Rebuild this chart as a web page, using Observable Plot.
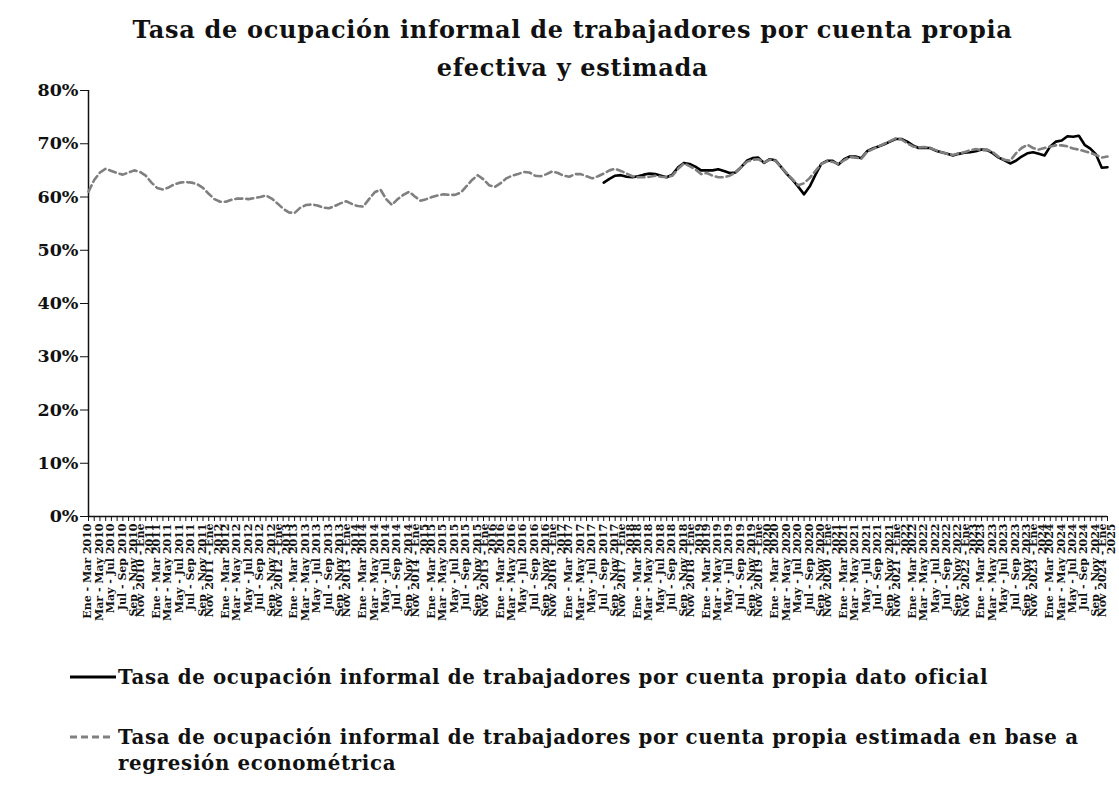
<!DOCTYPE html>
<html><head><meta charset="utf-8">
<script src="https://cdn.jsdelivr.net/npm/d3@7"></script>
<script src="https://cdn.jsdelivr.net/npm/@observablehq/plot@0.6"></script>
<style>
body{margin:0;background:#fff;font-family:"DejaVu Serif",serif;}
#wrap{position:relative;width:1119px;height:806px;overflow:hidden;background:#fff;}
#chart{position:absolute;left:0;top:0;}
#title{position:absolute;left:13px;width:1119px;top:11px;text-align:center;font-weight:bold;font-size:24px;letter-spacing:0.7px;line-height:38px;color:#111;}
.leg{position:absolute;left:70px;font-weight:bold;font-size:19.8px;letter-spacing:0.65px;color:#111;line-height:26px;}
.leg svg{position:absolute;left:0;top:0;}
.leg span{position:absolute;left:48px;top:0;white-space:nowrap;}
svg text{font-weight:bold;}
</style>
</head><body>
<div id="wrap">
  <div id="chart"></div>
  <div id="title">Tasa de ocupación informal de trabajadores por cuenta propia<br>efectiva y estimada</div>
  <div class="leg" style="top:664px;width:1040px;height:30px;">
    <svg width="48" height="26"><line x1="0" x2="46" y1="13" y2="13" stroke="#000" stroke-width="3"/></svg>
    <span>Tasa de ocupación informal de trabajadores por cuenta propia dato oficial</span>
  </div>
  <div class="leg" style="top:724px;width:1040px;height:60px;">
    <svg width="48" height="26"><line x1="0" x2="42" y1="13" y2="13" stroke="#808080" stroke-width="3" stroke-dasharray="7,4"/></svg>
    <span>Tasa de ocupación informal de trabajadores por cuenta propia estimada en base a<br>regresión econométrica</span>
  </div>
</div>
<script>
const meses = ["Ene","Feb","Mar","Abr","May","Jun","Jul","Ago","Sep","Oct","Nov","Dic"];
const anioInicio = 2010;
const inicioOficial = 90; // Jul - Sep 2017

const estimada = [
61.0,63.2,64.6,65.3,64.9,64.5,64.2,64.6,65.0,64.7,64.0,62.7,
61.7,61.4,61.8,62.4,62.7,62.8,62.7,62.4,61.7,60.6,59.6,59.1,
59.1,59.5,59.7,59.7,59.6,59.8,60.0,60.3,59.7,58.8,57.8,57.1,
57.0,58.0,58.5,58.6,58.4,58.0,57.9,58.3,58.8,59.2,58.7,58.3,
58.2,59.6,60.9,61.4,59.6,58.5,59.6,60.4,61.0,60.1,59.3,59.6,
60.0,60.3,60.5,60.4,60.4,60.8,62.0,63.2,64.1,63.3,62.2,61.9,
62.6,63.5,64.0,64.3,64.7,64.6,64.0,63.9,64.3,64.8,64.5,64.0,
63.8,64.3,64.3,63.9,63.5,63.9,64.4,65.0,65.3,64.9,64.4,63.9,
63.7,63.7,63.8,64.0,63.8,63.7,64.0,65.3,66.3,65.8,65.2,64.3,
64.5,64.0,63.7,63.7,64.0,64.6,65.6,66.6,67.0,67.1,66.5,67.0,
66.8,65.6,64.4,63.3,62.2,62.6,63.6,64.9,66.2,66.7,66.6,66.2,
66.9,67.5,67.4,67.2,68.5,69.0,69.5,70.0,70.5,71.0,70.8,70.1,
69.5,69.3,69.4,69.2,68.8,68.4,68.1,67.9,68.2,68.4,68.8,69.0,
68.8,68.9,68.4,67.5,67.0,66.8,68.2,69.2,69.8,69.2,68.9,69.2,
69.5,69.7,69.7,69.5,69.1,68.9,68.6,68.3,67.9,67.4,67.6
];

const oficial = [
62.7,63.4,64.0,64.1,63.8,63.7,63.9,64.2,64.4,64.3,64.0,63.7,
64.2,65.6,66.4,66.2,65.7,65.0,65.0,65.0,65.2,64.9,64.5,64.6,
65.6,66.8,67.3,67.4,66.4,67.1,66.9,65.6,64.3,63.2,61.9,60.5,
62.0,64.2,66.2,66.8,66.8,66.1,67.1,67.6,67.6,67.3,68.6,69.1,
69.5,69.9,70.4,70.9,70.9,70.4,69.7,69.2,69.2,69.2,68.7,68.4,
68.1,67.8,68.1,68.3,68.4,68.6,68.9,68.8,68.2,67.4,66.9,66.3,
66.8,67.6,68.2,68.4,68.1,67.8,69.5,70.4,70.6,71.4,71.3,71.5,
69.8,69.1,68.0,65.5,65.6
];

const yTicks = [0,0.1,0.2,0.3,0.4,0.5,0.6,0.7,0.8];

// category labels (rolling trimesters)
const n = estimada.length;
const etiquetas = d3.range(n).map(i => {
  const m = i % 12, y = anioInicio + Math.floor(i / 12);
  const m2 = m + 2;
  if (m2 < 12) return `${meses[m]} - ${meses[m2]} ${y}`;
  return `${meses[m]} ${y} - ${meses[m2 - 12]}\n${y + 1}`;
});

const dataEst = estimada.map((v, i) => ({i, v: v / 100}));
const dataOf = oficial.map((v, k) => ({i: k + inicioOficial, v: v / 100}));

const chart = Plot.plot({
  width: 1119, height: 650,
  marginLeft: 88, marginRight: 12, marginTop: 90, marginBottom: 134,
  style: {fontFamily: "DejaVu Serif", color: "#111", background: "#fff"},
  x: {type: "point", domain: d3.range(n), padding: 0, axis: null},
  y: {domain: [0, 0.8], axis: null},
  marks: [
    Plot.axisY({ticks: yTicks, tickFormat: d3.format(".0%"), tickSize: 8, tickPadding: 2, fontSize: 17.5, fontWeight: "bold", label: null}),
    Plot.ruleX([0], {y1: 0, y2: 0.8, stroke: "#111", strokeWidth: 1.5}),
    Plot.ruleY([0], {x1: 0, x2: n - 1, stroke: "#111", strokeWidth: 1.5}),
    Plot.axisX({ticks: d3.range(n), tickFormat: () => "", tickSize: 5, label: null}),
    Plot.axisX({ticks: d3.range(0, n, 2), tickFormat: i => etiquetas[i], tickRotate: -90, tickSize: 0, tickPadding: 7, fontSize: 11, fontWeight: "bold", lineHeight: 0.8, label: null}),
    Plot.line(dataOf, {x: "i", y: "v", stroke: "#000", strokeWidth: 2.6}),
    Plot.line(dataEst, {x: "i", y: "v", stroke: "#7f7f7f", strokeWidth: 2.6, strokeDasharray: "7,4"})
  ]
});
document.getElementById("chart").appendChild(chart);
</script>
</body></html>
